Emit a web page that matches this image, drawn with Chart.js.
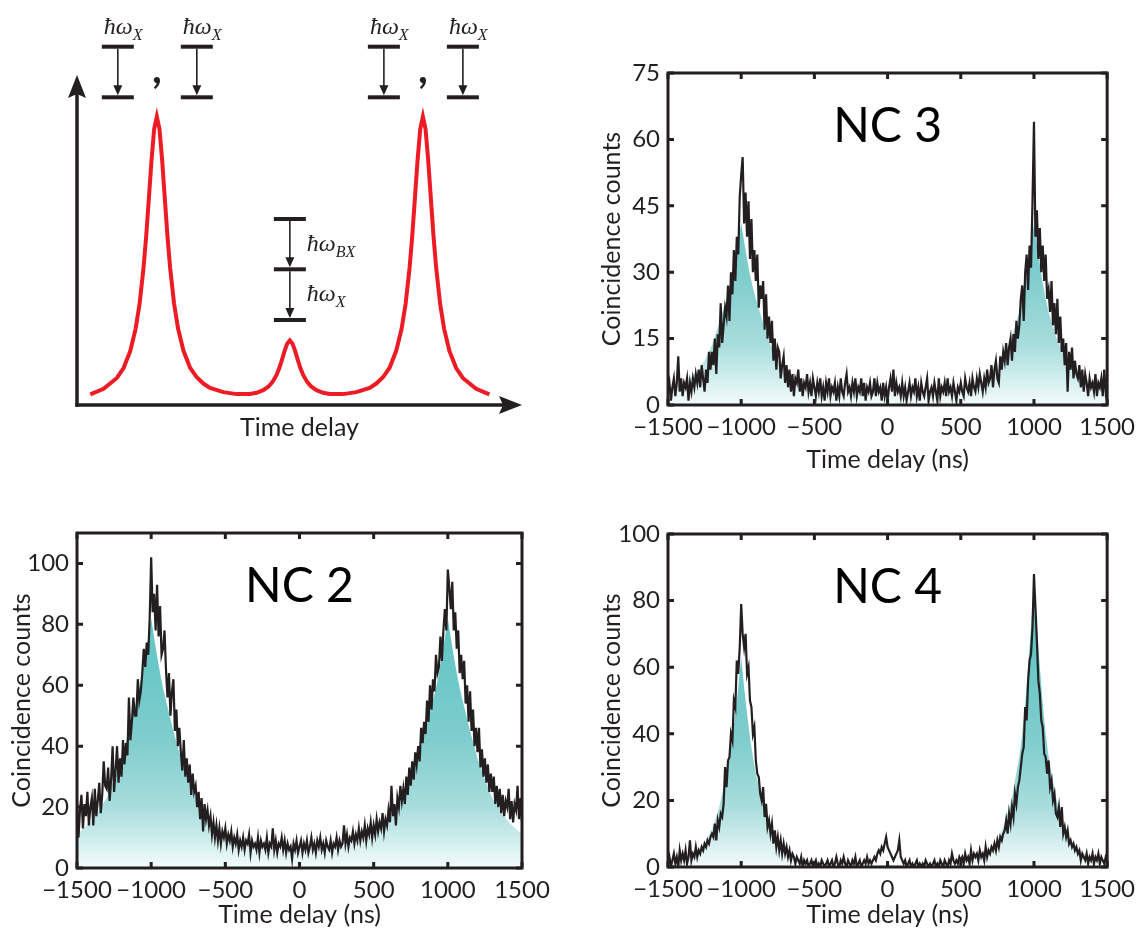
<!DOCTYPE html>
<html>
<head>
<meta charset="utf-8">
<script src="https://cdn.jsdelivr.net/npm/chart.js@4.4.1/dist/chart.umd.min.js"></script>
<style>
html,body{margin:0;padding:0;background:#fff;width:1143px;height:935px;overflow:hidden;}
canvas{position:absolute;display:block;}
</style>
</head>
<body>
<canvas id="sch" width="570" height="470" style="left:0;top:0"></canvas>
<canvas id="nc3" width="553" height="460" style="left:590px;top:40px"></canvas>
<canvas id="nc2" width="560" height="435" style="left:0;top:500px"></canvas>
<canvas id="nc4" width="553" height="435" style="left:590px;top:500px"></canvas>
<script>
// ---------------- data ----------------
const timeBins = [
-1500,-1490,-1480,-1470,-1460,-1450,-1440,-1430,-1420,-1410,
-1400,-1390,-1380,-1370,-1360,-1350,-1340,-1330,-1320,-1310,
-1300,-1290,-1280,-1270,-1260,-1250,-1240,-1230,-1220,-1210,
-1200,-1190,-1180,-1170,-1160,-1150,-1140,-1130,-1120,-1110,
-1100,-1090,-1080,-1070,-1060,-1050,-1040,-1030,-1020,-1010,
-1000,-990,-980,-970,-960,-950,-940,-930,-920,-910,
-900,-890,-880,-870,-860,-850,-840,-830,-820,-810,
-800,-790,-780,-770,-760,-750,-740,-730,-720,-710,
-700,-690,-680,-670,-660,-650,-640,-630,-620,-610,
-600,-590,-580,-570,-560,-550,-540,-530,-520,-510,
-500,-490,-480,-470,-460,-450,-440,-430,-420,-410,
-400,-390,-380,-370,-360,-350,-340,-330,-320,-310,
-300,-290,-280,-270,-260,-250,-240,-230,-220,-210,
-200,-190,-180,-170,-160,-150,-140,-130,-120,-110,
-100,-90,-80,-70,-60,-50,-40,-30,-20,-10,
0,10,20,30,40,50,60,70,80,90,
100,110,120,130,140,150,160,170,180,190,
200,210,220,230,240,250,260,270,280,290,
300,310,320,330,340,350,360,370,380,390,
400,410,420,430,440,450,460,470,480,490,
500,510,520,530,540,550,560,570,580,590,
600,610,620,630,640,650,660,670,680,690,
700,710,720,730,740,750,760,770,780,790,
800,810,820,830,840,850,860,870,880,890,
900,910,920,930,940,950,960,970,980,990,
1000,1010,1020,1030,1040,1050,1060,1070,1080,1090,
1100,1110,1120,1130,1140,1150,1160,1170,1180,1190,
1200,1210,1220,1230,1240,1250,1260,1270,1280,1290,
1300,1310,1320,1330,1340,1350,1360,1370,1380,1390,
1400,1410,1420,1430,1440,1450,1460,1470,1480,1490,
1500];

const nc3Counts = [
3,5,1,4,6,2,5,11,3,6,
2,5,4,6,1,5,3,6,4,7,
5,8,4,9,6,3,8,5,12,8,
12,9,15,7,16,13,23,14,18,22,
20,27,19,30,25,35,28,38,34,47,
52,56,41,48,38,46,33,42,30,35,
28,34,22,27,24,28,17,25,15,20,
14,19,10,15,8,13,12,6,9,11,
5,9,4,8,3,7,2,6,5,8,
3,6,2,5,4,7,3,5,2,6,
4,2,5,3,6,2,4,1,5,3,
6,2,4,3,5,1,4,2,6,3,
2,5,7,3,4,2,5,3,6,2,
4,3,6,2,5,1,4,3,5,2,
3,6,2,5,3,4,1,5,2,4,
1,4,6,3,8,2,5,3,4,2,
5,2,4,1,3,5,2,4,3,6,
2,4,1,5,3,2,4,6,1,3,
4,2,5,3,1,6,2,4,3,5,
2,6,3,4,2,5,3,1,4,3,
5,3,2,6,4,3,5,2,6,4,
3,6,4,7,5,3,6,4,8,5,
6,9,4,8,10,6,5,11,8,12,
10,14,9,13,15,10,16,12,19,15,
18,24,27,19,30,34,26,36,31,46,
64,38,44,33,40,30,36,28,34,24,
26,21,28,18,23,16,24,14,20,12,
15,9,14,3,12,8,13,6,10,7,
6,9,4,8,3,7,5,2,6,4,
5,3,7,2,5,4,6,2,8,3,
5];

const nc2Counts = [
22,10,19,24,13,21,17,25,14,20,
23,14,26,17,22,28,18,24,35,27,
26,33,22,29,40,25,32,40,28,36,
30,42,34,41,37,56,42,48,56,50,
50,62,55,58,64,72,66,74,70,82,
102,84,90,78,93,76,86,70,72,78,
65,56,64,50,58,62,45,52,40,46,
38,32,42,30,36,28,34,24,31,25,
27,20,25,16,23,12,21,16,19,14,
17,11,15,10,14,9,13,8,12,10,
13,8,11,9,12,7,10,8,11,6,
9,7,10,6,9,8,11,5,9,7,
8,6,10,5,9,7,8,6,10,5,
8,7,13,6,9,5,8,7,10,6,
9,5,8,6,7,3,8,6,9,5,
7,9,5,8,6,9,5,7,10,6,
8,5,9,7,10,6,8,5,9,7,
6,9,5,8,7,10,6,9,7,8,
14,8,11,7,10,9,12,8,11,9,
13,9,12,10,14,9,13,11,15,10,
14,11,16,12,15,13,18,12,16,14,
19,15,27,17,21,14,23,20,27,22,
26,21,30,24,33,27,35,29,38,34,
40,35,46,41,48,44,55,48,60,52,
62,58,70,64,66,76,68,78,85,78,
98,92,85,94,78,84,72,78,64,70,
62,68,54,60,48,58,45,52,40,46,
38,46,33,39,30,36,28,34,25,31,
25,30,21,27,20,26,18,24,17,22,
20,26,16,22,15,21,19,27,16,23,
15];

const nc4Counts = [
1,3,0,2,4,1,3,0,5,2,
4,2,5,1,3,8,2,4,3,6,
3,5,4,6,5,7,6,8,7,9,
10,9,13,8,14,12,16,15,19,30,
24,32,33,40,38,50,48,62,58,66,
79,70,66,70,58,60,50,48,40,42,
32,28,27,22,20,24,15,19,12,14,
10,13,7,11,6,9,5,8,4,7,
4,6,3,5,2,4,3,1,3,2,
1,3,0,2,1,2,0,1,2,0,
1,2,0,1,0,2,1,0,1,2,
0,1,2,0,1,3,1,0,2,1,
3,1,0,2,1,0,2,1,3,0,
1,2,0,1,2,1,3,1,2,1,
2,3,2,4,5,4,6,5,7,9,
6,5,4,3,2,3,4,5,8,3,
2,1,2,0,1,2,0,1,0,1,
2,0,1,0,1,0,2,1,0,1,
0,1,2,0,1,0,2,1,0,2,
1,0,2,1,4,2,1,2,1,3,
2,3,1,4,2,3,1,5,2,4,
3,4,2,5,3,4,2,6,3,5,
4,6,5,7,5,8,6,9,8,10,
11,14,10,16,13,18,15,22,19,24,
26,30,34,36,48,44,56,62,64,72,
88,78,68,56,52,44,42,34,33,28,
32,24,26,20,22,16,15,18,12,18,
10,12,9,11,7,8,6,7,5,6,
4,5,2,4,3,2,4,1,3,2,
4,1,3,2,4,1,3,2,1,3,
2];

// smooth (fitted) envelopes shown as the shaded area
const fitBins = [-1500,-1400,-1300,-1250,-1200,-1150,-1100,-1080,-1060,-1040,
-1020,-1000,-980,-960,-940,-920,-900,-850,-800,-750,
-700,-600,-500,-300,0,300,500,600,700,750,
800,850,900,920,940,960,980,1000,1020,1040,
1060,1080,1100,1150,1200,1250,1300,1400,1500];
const nc3Fit = [3.8,5,7.5,10,13.5,18.5,24,26.5,29.5,33,
37,41,37,33,29.5,26.5,24,18.5,13.5,10,
7.5,5,3.8,3.0,3.0,3.0,3.8,4.5,6.5,8.5,
11.5,15.5,21,24,27.5,31.5,36,41,36,31.5,
27.5,24,21,15.5,11.5,8.5,6.5,4.5,3.8];
const nc2Fit = [11,15.5,23,29,36,45,55,59,64,69.5,
75.5,82,75.5,69.5,64,59,55,45,36,29,
23,15.5,11,7,5.8,7,11,15.5,23,29,
36,45,55,59,64,69.5,75.5,82,75.5,69.5,
64,59,55,45,36,29,23,15.5,11];
const nc4Fit = [1.6,2.5,5,7.5,11.5,18,28,33,39,46,
54,63,54,46,39,33,28,18,11.5,7.5,
5,2.5,1.6,1.0,0.8,1.0,1.7,2.8,5.5,8.5,
13,21,33,40,49,60,72,86,72,60,
49,40,33,21,13,8.5,5.5,2.8,1.7];

// tick labels
const timeTicks = [-1500,-1000,-500,0,500,1000,1500];
const nc3Ticks = [0,15,30,45,60,75];
const nc2Ticks = [0,20,40,60,80,100];
const nc4Ticks = [0,20,40,60,80,100];

// schematic curve (arbitrary units)
const schemX = [-1.5,-1.4,-1.3,-1.25,-1.2,-1.16,-1.13,-1.1,-1.08,-1.06,-1.04,-1.02,-1.0,
-0.98,-0.96,-0.94,-0.92,-0.9,-0.87,-0.84,-0.8,-0.75,-0.7,-0.65,-0.6,-0.5,-0.4,-0.3,-0.25,-0.2,
-0.16,-0.13,-0.1,-0.08,-0.06,-0.04,-0.02,0,
0.02,0.04,0.06,0.08,0.1,0.13,0.16,0.2,0.25,0.3,0.4,0.5,0.6,0.65,0.7,0.75,0.8,0.84,0.87,0.9,
0.92,0.94,0.96,0.98,1.0,1.02,1.04,1.06,1.08,1.1,1.13,1.16,1.2,1.25,1.3,1.4,1.5];
const schemY = [3.2,4.9,8.2,11.2,16.3,23.0,30.5,41.5,51.1,62.5,74.1,83.6,87.4,
83.6,74.2,62.6,51.2,41.6,30.6,23.1,16.5,11.3,8.4,6.5,5.2,3.9,3.3,3.35,3.7,4.5,
5.6,7.0,9.1,11.1,13.6,16.3,18.6,19.6,
18.6,16.3,13.6,11.1,9.1,7.0,5.6,4.5,3.7,3.35,3.3,3.9,5.2,6.5,8.4,11.3,16.5,23.1,30.6,41.6,
51.2,62.6,74.2,83.6,87.4,83.6,74.1,62.5,51.1,41.5,30.5,23.0,16.3,11.2,8.2,4.9,3.2];

// ---------------- styling helpers ----------------
const INK = '#231f20';
const FONT = 'Lato';
Chart.defaults.font.family = FONT;
Chart.defaults.color = INK;

function pts(xs, ys) { return xs.map((v, i) => ({x: v, y: ys[i]})); }
function fmt(v) { return v < 0 ? '\u2212' + Math.abs(v) : String(v); }

function tealFill(context) {
  const chart = context.chart;
  const a = chart.chartArea;
  if (!a) return 'rgba(0,0,0,0)';
  const g = chart.ctx.createLinearGradient(0, a.bottom, 0, a.top);
  g.addColorStop(0, '#f4fbfb');
  g.addColorStop(0.18, '#a9dddd');
  g.addColorStop(0.38, '#80cdcd');
  g.addColorStop(0.65, '#66c6c6');
  g.addColorStop(1, '#5dc2c2');
  return g;
}

const framePlugin = {
  id: 'frame',
  afterDatasetsDraw(chart, args, opts) {
    if (!opts || !opts.label) return;
    const {ctx, chartArea: a} = chart;
    const x = chart.scales.x, y = chart.scales.y;
    ctx.save();
    ctx.strokeStyle = INK;
    ctx.lineWidth = 3;
    ctx.strokeRect(a.left, a.top, a.right - a.left, a.bottom - a.top);
    const L = 6;
    ctx.beginPath();
    x.ticks.forEach(t => {
      const px = x.getPixelForValue(t.value);
      ctx.moveTo(px, a.bottom); ctx.lineTo(px, a.bottom - L);
      ctx.moveTo(px, a.top); ctx.lineTo(px, a.top + L);
    });
    y.ticks.forEach(t => {
      const py = y.getPixelForValue(t.value);
      ctx.moveTo(a.left, py); ctx.lineTo(a.left + L, py);
      ctx.moveTo(a.right, py); ctx.lineTo(a.right - L, py);
    });
    ctx.stroke();
    ctx.fillStyle = '#000';
    ctx.font = '48px ' + FONT;
    ctx.textAlign = 'center';
    ctx.textBaseline = 'alphabetic';
    ctx.fillText(opts.label, (a.left + a.right) / 2, a.top + 69);
    ctx.restore();
  }
};

function panel(id, counts, fit, yMax, yTicks, label, geo) {
  new Chart(document.getElementById(id), {
    type: 'line',
    data: {
      datasets: [
        { data: pts(timeBins, counts), borderColor: INK, borderWidth: 2.2, pointRadius: 0, fill: false, tension: 0 },
        { data: pts(fitBins, fit), borderWidth: 0, borderColor: 'rgba(0,0,0,0)', pointRadius: 0, fill: 'origin', backgroundColor: tealFill, tension: 0 }
      ]
    },
    options: {
      responsive: false, animation: false, events: [],
      layout: { padding: { left: 0, right: geo.right, top: geo.top, bottom: 0 } },
      plugins: { legend: { display: false }, tooltip: { enabled: false }, frame: { label: label } },
      scales: {
        x: {
          type: 'linear', min: -1500, max: 1500,
          grid: { display: false, drawTicks: false }, border: { display: false },
          afterBuildTicks: s => { s.ticks = timeTicks.map(v => ({ value: v })); },
          afterFit: s => { s.height = geo.xh; },
          ticks: { autoSkip: false, maxRotation: 0, minRotation: 0, padding: 8, font: { size: 24 }, color: INK, callback: v => fmt(v) },
          title: { display: true, text: 'Time delay (ns)', font: { size: 25 }, color: INK, padding: { top: 0, bottom: geo.xtp } }
        },
        y: {
          type: 'linear', min: 0, max: yMax,
          grid: { display: false, drawTicks: false }, border: { display: false },
          afterBuildTicks: s => { s.ticks = yTicks.map(v => ({ value: v })); },
          afterFit: s => { s.width = geo.yw; },
          ticks: { padding: 8, font: { size: 24 }, color: INK, callback: v => fmt(v) },
          title: { display: true, text: 'Coincidence counts', font: { size: 25 }, color: INK, padding: { top: geo.ytp, bottom: 0 } }
        }
      }
    },
    plugins: [framePlugin]
  });
}

panel('nc3', nc3Counts, nc3Fit, 75, nc3Ticks, 'NC 3', { right: 32, top: 33, xh: 95, yw: 78, xtp: 25, ytp: 7 });
panel('nc2', nc2Counts, nc2Fit, 110, nc2Ticks, 'NC 2', { right: 38, top: 33, xh: 67, yw: 77, xtp: 5, ytp: 7 });
panel('nc4', nc4Counts, nc4Fit, 100, nc4Ticks, 'NC 4', { right: 33, top: 34, xh: 68, yw: 78, xtp: 5, ytp: 7 });

// ---------------- schematic ----------------
const schemPlugin = {
  id: 'schem',
  afterDraw(chart) {
    const {ctx, chartArea: a} = chart;
    const x = chart.scales.x;
    ctx.save();
    ctx.fillStyle = INK; ctx.strokeStyle = INK;
    ctx.lineWidth = 3.5;
    ctx.beginPath(); ctx.moveTo(a.left, a.bottom + 1.75); ctx.lineTo(a.left, a.top + 18); ctx.stroke();
    ctx.beginPath(); ctx.moveTo(a.left - 1.75, a.bottom); ctx.lineTo(a.right - 18, a.bottom); ctx.stroke();
    ctx.beginPath();
    ctx.moveTo(a.left, a.top); ctx.lineTo(a.left + 9, a.top + 23); ctx.lineTo(a.left, a.top + 19); ctx.lineTo(a.left - 9, a.top + 23);
    ctx.closePath(); ctx.fill();
    ctx.beginPath();
    ctx.moveTo(a.right, a.bottom); ctx.lineTo(a.right - 23, a.bottom - 9); ctx.lineTo(a.right - 19, a.bottom); ctx.lineTo(a.right - 23, a.bottom + 9);
    ctx.closePath(); ctx.fill();

    const lvl = (cx, yy) => ctx.fillRect(cx - 16, yy - 2, 32, 4);
    const arrow = (cx, y1, y2) => {
      ctx.lineWidth = 1.6;
      ctx.beginPath(); ctx.moveTo(cx, y1); ctx.lineTo(cx, y2 - 8); ctx.stroke();
      ctx.beginPath(); ctx.moveTo(cx, y2); ctx.lineTo(cx - 4.5, y2 - 10); ctx.lineTo(cx + 4.5, y2 - 10); ctx.closePath(); ctx.fill();
    };
    const hw = (lx, base, sub) => {
      ctx.textAlign = 'left'; ctx.textBaseline = 'alphabetic';
      ctx.font = 'italic 24px "Liberation Serif"';
      ctx.fillText('\u0127\u03c9', lx, base);
      const w = ctx.measureText('\u0127\u03c9').width;
      ctx.font = 'italic 16px "Liberation Serif"';
      ctx.fillText(sub, lx + w, base + 6);
    };
    const topY1 = a.top - 28.3, topY2 = a.top + 22.3;
    [-1, 1].forEach(pk => {
      const p = x.getPixelForValue(pk);
      [p - 39, p + 40].forEach(cx => {
        lvl(cx, topY1); lvl(cx, topY2);
        arrow(cx, topY1 + 2, topY2 - 2);
        hw(cx - 14, a.top - 41.5, 'X');
      });
      ctx.font = 'bold 42px ' + FONT; ctx.textAlign = 'center'; ctx.textBaseline = 'alphabetic';
      ctx.fillText(',', p, a.top + 8);
    });
    const c = x.getPixelForValue(0);
    const b1 = a.top + 144, b2 = a.top + 194.3, b3 = a.top + 245;
    lvl(c, b1); lvl(c, b2); lvl(c, b3);
    arrow(c, b1 + 2, b2 - 2);
    arrow(c, b2 + 2, b3 - 2);
    hw(c + 17, a.top + 175.7, 'BX');
    hw(c + 17, a.top + 225.7, 'X');
    ctx.restore();
  }
};

new Chart(document.getElementById('sch'), {
  type: 'line',
  data: { datasets: [{ data: pts(schemX, schemY), borderColor: '#ed1c24', borderWidth: 4, pointRadius: 0, fill: false, tension: 0 }] },
  options: {
    responsive: false, animation: false, events: [],
    layout: { padding: { left: 77, right: 48, top: 75, bottom: 0 } },
    plugins: { legend: { display: false }, tooltip: { enabled: false } },
    scales: {
      x: {
        type: 'linear', min: -1.6, max: 1.745,
        grid: { display: false, drawTicks: false }, border: { display: false },
        ticks: { display: false },
        afterFit: s => { s.height = 65; },
        title: { display: true, text: 'Time delay', font: { size: 25 }, color: INK, padding: { top: 0, bottom: 27 } }
      },
      y: { type: 'linear', min: 0, max: 100, display: false }
    }
  },
  plugins: [schemPlugin]
});
</script>
</body>
</html>
